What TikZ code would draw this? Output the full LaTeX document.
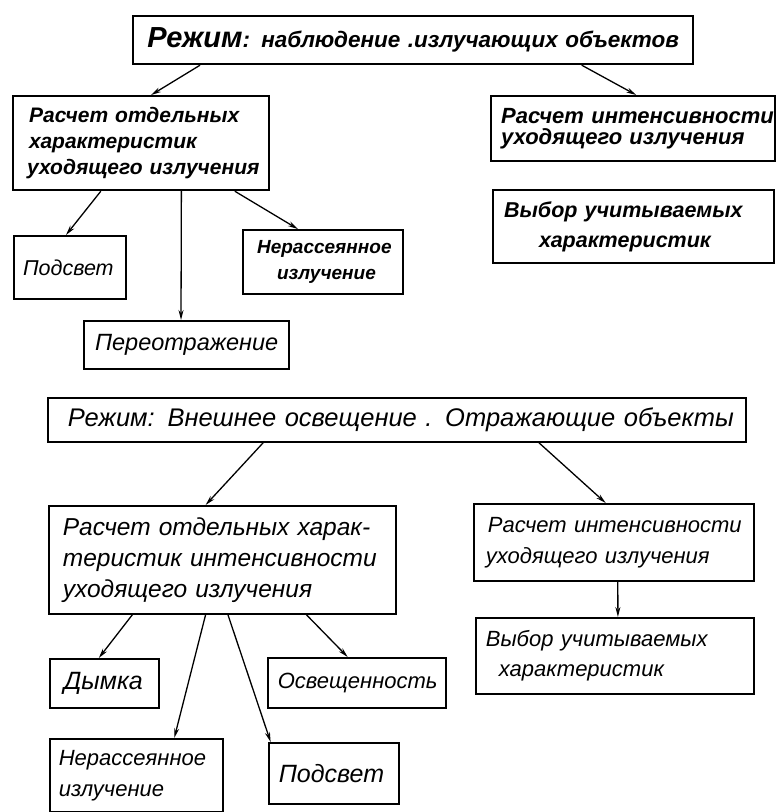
\documentclass[tikz,border=0pt]{standalone}
\usepackage{fontspec}
\setmainfont{Liberation Sans}
\usetikzlibrary{arrows.meta,calc}
\begin{document}
\begin{tikzpicture}[x=1pt,y=-1pt,
  box/.style={draw, line width=2.2pt, rectangle, anchor=north west, inner xsep=0pt, inner ysep=0pt, align=left},
  thinbox/.style={box, line width=1.7pt},
  arr/.style={line width=1.3pt, -{Stealth[length=10pt,width=5pt]}}]
\useasboundingbox (0,0) rectangle (776,812);
% upper part
\node[box, minimum width=560pt, minimum height=48pt, text width=560pt, align=center,
  font=\fontsize{22.5}{26}\selectfont\bfseries\itshape] (top) at (132,15)
  {{\fontsize{29}{30}\selectfont Режим}: наблюдение .излучающих объектов};
\node[box, minimum width=256pt, minimum height=94pt, text width=256pt,
  font=\fontsize{21}{26}\selectfont\bfseries\itshape] (L1) at (12,95)
  {\hspace*{16pt}Расчет отдельных\\\hspace*{16pt}характеристик\\\hspace*{14pt}уходящего излучения};
\node[box, minimum width=112pt, minimum height=63pt, text width=112pt,
  font=\fontsize{21.5}{26}\selectfont\itshape] (P1) at (13,235)
  {\hspace*{9pt}Подсвет};
\node[box, minimum width=160pt, minimum height=64pt, text width=160pt,
  font=\fontsize{19}{26}\selectfont\bfseries\itshape] (N1) at (242,229)
  {\hspace*{14pt}Нерассеянное\\\hspace*{34pt}излучение};
\node[box, minimum width=205pt, minimum height=48pt, text width=205pt,
  font=\fontsize{23.5}{26}\selectfont\itshape] (PR) at (83,320)
  {\hspace*{11pt}Переотражение};
\node[box, minimum width=284pt, minimum height=65pt, text width=284pt,
  font=\fontsize{22}{21}\selectfont\bfseries\itshape] (R1) at (490,95)
  {\hspace*{10pt}Расчет интенсивности\\\hspace*{10pt}уходящего излучения};
\node[box, minimum width=281pt, minimum height=73pt, text width=281pt,
  font=\fontsize{21.5}{30}\selectfont\bfseries\itshape] (V1) at (492,189)
  {\hspace*{11pt}Выбор учитываемых\\\hspace*{46pt}характеристик};
% lower part
\node[thinbox, minimum width=698pt, minimum height=44pt, text width=698pt,
  font=\fontsize{25.5}{28}\selectfont\itshape] (MID) at (47,397)
  {\hspace*{20pt}Режим: Внешнее освещение . Отражающие объекты};
\node[thinbox, minimum width=347pt, minimum height=108pt, text width=347pt,
  font=\fontsize{24.5}{31}\selectfont\itshape] (L2) at (48,505)
  {\hspace*{14pt}Расчет отдельных харак-\\\hspace*{14pt}теристик интенсивности\\\hspace*{14pt}уходящего излучения};
\node[thinbox, minimum width=280pt, minimum height=77pt, text width=280pt,
  font=\fontsize{22}{31}\selectfont\itshape] (R2) at (473,503)
  {\hspace*{14pt}Расчет интенсивности\\\hspace*{12pt}уходящего излучения};
\node[thinbox, minimum width=278pt, minimum height=76pt, text width=278pt,
  font=\fontsize{22}{30}\selectfont\itshape] (V2) at (475,617)
  {\hspace*{10pt}Выбор учитываемых\\\hspace*{23pt}характеристик};
\node[thinbox, minimum width=109pt, minimum height=49pt, text width=109pt,
  font=\fontsize{25}{28}\selectfont\itshape] (D) at (49,658)
  {\hspace*{14pt}Дымка};
\node[thinbox, minimum width=178pt, minimum height=50pt, text width=178pt,
  font=\fontsize{22}{28}\selectfont\itshape] (O) at (267,657)
  {\hspace*{10pt}Освещенность};
\node[thinbox, minimum width=173pt, minimum height=73pt, text width=173pt,
  font=\fontsize{22}{31}\selectfont\itshape] (N2) at (49,738)
  {\hspace*{9pt}Нерассеянное\\\hspace*{9pt}излучение};
\node[thinbox, minimum width=130pt, minimum height=61pt, text width=130pt,
  font=\fontsize{25}{28}\selectfont\itshape] (P2) at (268,742)
  {\hspace*{10pt}Подсвет};
% connectors
\draw[arr] ($(top.south west)!0.121!(top.south east)$) -- ($(L1.north west)!0.539!(L1.north east)$);
\draw[arr] ($(top.south west)!0.800!(top.south east)$) -- ($(R1.north west)!0.511!(R1.north east)$);
\draw[arr] ($(L1.south west)!0.344!(L1.south east)$) -- ($(P1.north west)!0.464!(P1.north east)$);
\draw[arr] ($(L1.south west)!0.656!(L1.south east)$) -- ($(PR.north west)!0.473!(PR.north east)$);
\draw[arr] ($(L1.south west)!0.863!(L1.south east)$) -- ($(N1.north west)!0.344!(N1.north east)$);
\draw[arr] ($(MID.south west)!0.309!(MID.south east)$) -- ($(L2.north west)!0.452!(L2.north east)$);
\draw[arr] ($(MID.south west)!0.703!(MID.south east)$) -- ($(R2.north west)!0.471!(R2.north east)$);
\draw[arr] ($(L2.south west)!0.242!(L2.south east)$) -- ($(D.north west)!0.450!(D.north east)$);
\draw[arr] ($(L2.south west)!0.452!(L2.south east)$) -- ($(N2.north west)!0.717!(N2.north east)$);
\draw[arr] ($(L2.south west)!0.516!(L2.south east)$) -- ($(P2.north west)!0.020!(P2.north east)$);
\draw[arr] ($(L2.south west)!0.741!(L2.south east)$) -- ($(O.north west)!0.449!(O.north east)$);
\draw[arr] ($(R2.south west)!0.514!(R2.south east)$) -- ($(V2.north west)!0.511!(V2.north east)$);
\end{tikzpicture}
\end{document}
